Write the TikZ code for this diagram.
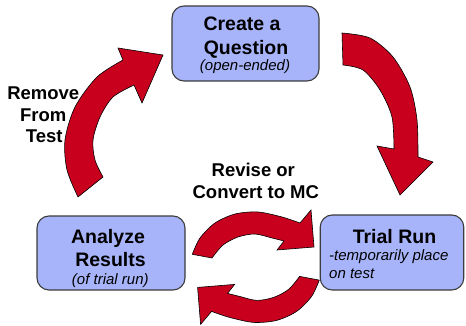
\documentclass[tikz,border=0pt]{standalone}
\usepackage{fontspec}
\setmainfont{Liberation Sans}
\definecolor{boxfill}{RGB}{168,180,250}
\definecolor{arrowred}{RGB}{200,0,30}
\definecolor{boxline}{RGB}{60,60,60}
\begin{document}
\begin{tikzpicture}[x=1pt,y=-1pt,
  stepbox/.style={draw=boxline, line width=1.1pt, fill=boxfill, rounded corners=12pt, inner sep=0pt},
  bigarrow/.style={fill=arrowred, draw=black, line width=0.6pt, line join=miter},
  titletxt/.style={font=\bfseries\fontsize{19.5}{22}\selectfont, anchor=base, inner sep=0pt},
  labeltxt/.style={font=\bfseries\fontsize{18.5}{22}\selectfont, anchor=base, inner sep=0pt},
  subtxt/.style={font=\itshape\fontsize{15}{18}\selectfont, anchor=base, inner sep=0pt}]
\useasboundingbox (0,0) rectangle (466,326);

% boxes
\node[stepbox, minimum width=147pt, minimum height=75pt] (create) at (245.5,43.5) {};
\node[stepbox, minimum width=143.5pt, minimum height=75pt] (trial) at (392,252.5) {};
\node[stepbox, minimum width=148pt, minimum height=74pt] (analyze) at (111,253) {};

% box texts
\node[titletxt] (t1) at (242,31) {Create a};
\node[titletxt] (t2) at (246,54.3) {Question};
\node[subtxt] (t3) at (245,70.7) {(open-ended)};

\node[titletxt] (t4) at (394.5,243.3) {Trial Run};
\node[subtxt, anchor=base west] (t5) at (329,260.7) {-temporarily place};
\node[subtxt, anchor=base west] (t6) at (329,278.3) {on test};

\node[titletxt] (t7) at (108,243.3) {Analyze};
\node[titletxt] (t8) at (110.5,266) {Results};
\node[subtxt] (t9) at (110.3,284) {(of trial run)};

% free labels
\node[labeltxt] (l1) at (253.3,176.7) {Revise or};
\node[labeltxt] (l2) at (255.8,198.7) {Convert to MC};
\node[labeltxt] (l3) at (43.3,100) {Remove};
\node[labeltxt] (l4) at (43.3,121.7) {From};
\node[labeltxt] (l5) at (44.2,142.3) {Test};

% top-right arrow
\draw[bigarrow] plot[smooth] coordinates {(342,33) (370,38) (393,57) (410,87) (417,120) (418,157)}
  -- (433,162) -- (400,195) -- (377,146)
  -- plot[smooth] coordinates {(394,149) (392,117) (380,90) (363,70) (343,65)} -- cycle;

% top-left arrow
\draw[bigarrow] plot[smooth] coordinates {(78,197) (67,170) (65,140) (75,107) (97,77) (123,60)}
  -- (118,48) -- (163,55) -- (142,103)
  -- plot[smooth] coordinates {(134,85) (113,97) (100,117) (93,140) (95,160) (103,177)} -- cycle;

% middle cycle arrows
\begin{scope}[shift={(255.8,267.2)}]
\draw[bigarrow] plot[smooth] coordinates {(-63.5,-12.9) (-55.8,-29.2) (-40.8,-44.2) (-20.8,-53.2) (2.2,-55.2) (26.2,-50.2) (44.2,-44.2)}
  -- (55.2,-57.2) -- (58.2,-20.2) -- (21.2,-17.2)
  -- plot[smooth] coordinates {(28.2,-26.2) (16.2,-29.2) (-0.8,-33.2) (-17.8,-30.2) (-32.8,-22.2) (-43.8,-9.2)} -- cycle;
\end{scope}
\begin{scope}[shift={(255.8,267.2)}, rotate=180]
\draw[bigarrow] plot[smooth] coordinates {(-63.5,-12.9) (-55.8,-29.2) (-40.8,-44.2) (-20.8,-53.2) (2.2,-55.2) (26.2,-50.2) (44.2,-44.2)}
  -- (55.2,-57.2) -- (58.2,-20.2) -- (21.2,-17.2)
  -- plot[smooth] coordinates {(28.2,-26.2) (16.2,-29.2) (-0.8,-33.2) (-17.8,-30.2) (-32.8,-22.2) (-43.8,-9.2)} -- cycle;
\end{scope}
\end{tikzpicture}
\end{document}
